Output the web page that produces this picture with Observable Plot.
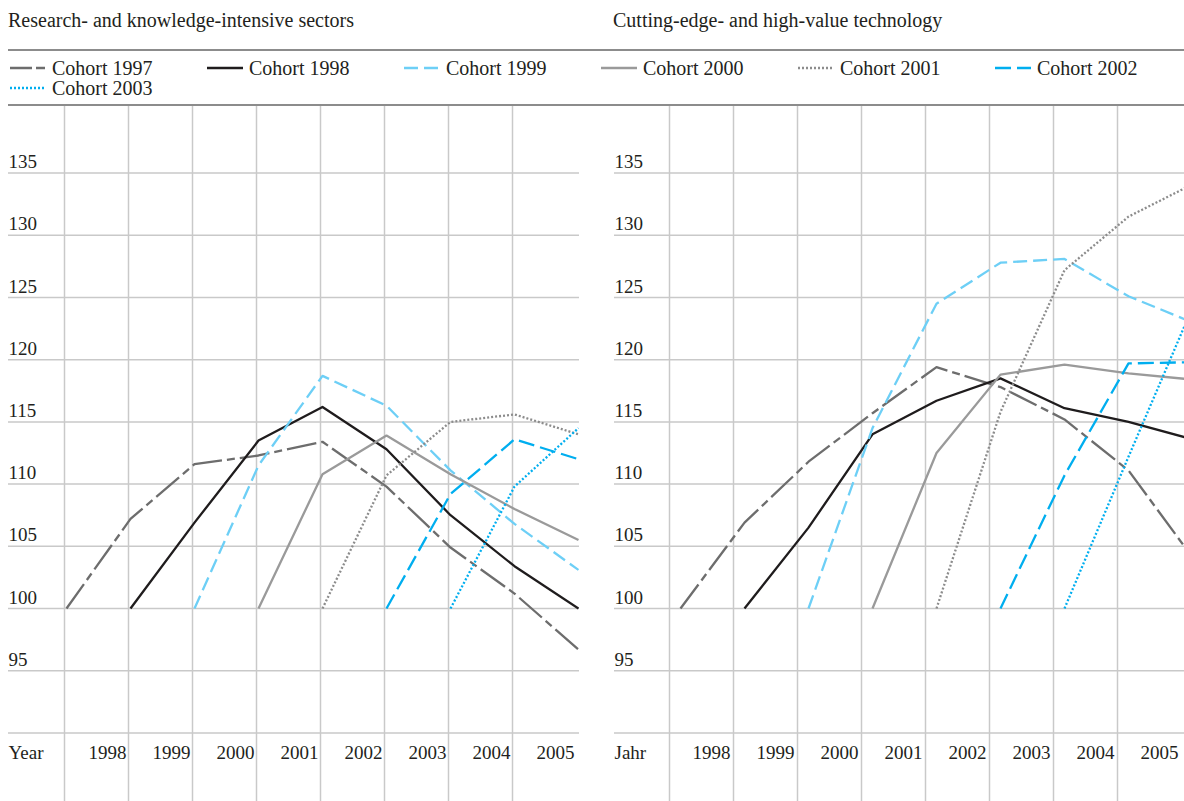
<!DOCTYPE html>
<html>
<head>
<meta charset="utf-8">
<script src="https://cdn.jsdelivr.net/npm/d3@7"></script>
<script src="https://cdn.jsdelivr.net/npm/@observablehq/plot@0.6"></script>
<style>
  html, body { margin: 0; padding: 0; background: #fff; overflow: hidden; }
  body { width: 1184px; height: 801px; position: relative; font-family: "Liberation Serif", "Times New Roman", serif; color: #231f20; }
  .title { position: absolute; top: 8px; font-size: 20px; line-height: 24px; white-space: nowrap; }
  .rule { position: absolute; left: 8px; width: 1176px; height: 2px; background: #8c8c8c; z-index: 2; }
  #legend { position: absolute; left: 8px; top: 58px; width: 1200px; display: flex; flex-wrap: wrap; }
  .item { width: 197px; height: 20px; display: flex; align-items: center; font-size: 20px; line-height: 20px; white-space: nowrap; }
  .item svg { margin-left: 2px; margin-right: 6px; flex: none; }
  .panel { position: absolute; top: 105px; }
</style>
</head>
<body>
<div class="title" style="left:8px">Research- and knowledge-intensive sectors</div>
<div class="title" style="left:613px">Cutting-edge- and high-value technology</div>
<div class="rule" style="top:49px"></div>
<div id="legend"></div>
<div class="rule" style="top:104px"></div>
<div class="panel" id="left" style="left:0px"></div>
<div class="panel" id="right" style="left:600px"></div>
<script>
// ---- data ----
const years = [1997, 1998, 1999, 2000, 2001, 2002, 2003, 2004, 2005];
const yTickLabels = [95, 100, 105, 110, 115, 120, 125, 130, 135];
const yGrid = [90, 95, 100, 105, 110, 115, 120, 125, 130, 135];
const cohorts = ["Cohort 1997", "Cohort 1998", "Cohort 1999", "Cohort 2000", "Cohort 2001", "Cohort 2002", "Cohort 2003"];
const cohortStart = [1997, 1998, 1999, 2000, 2001, 2002, 2003];

// Research- and knowledge-intensive sectors (index, start year = 100)
const research1997 = [100, 107.2, 111.6, 112.3, 113.4, 109.8, 104.9, 101.2, 96.7];
const research1998 = [100, 106.9, 113.5, 116.2, 112.8, 107.5, 103.4, 100.0];
const research1999 = [100, 111.5, 118.7, 116.3, 111.1, 106.8, 103.1];
const research2000 = [100, 110.8, 113.9, 110.8, 108.0, 105.5];
const research2001 = [100, 110.7, 115.0, 115.6, 114.0];
const research2002 = [100, 109.2, 113.6, 112.0];
const research2003 = [100, 109.8, 114.5];

// Cutting-edge- and high-value technology
const tech1997 = [100, 106.9, 111.8, 115.7, 119.4, 117.8, 115.2, 111.1, 104.1];
const tech1998 = [100, 106.5, 114.0, 116.7, 118.5, 116.1, 115.0, 113.6];
const tech1999 = [100, 114.5, 124.5, 127.8, 128.1, 125.1, 123.0];
const tech2000 = [100, 112.5, 118.8, 119.6, 118.9, 118.4];
const tech2001 = [100, 115.8, 127.2, 131.5, 134.1];
const tech2002 = [100, 110.7, 119.7, 119.8];
const tech2003 = [100, 112.2, 124.2];

const researchSeries = [research1997, research1998, research1999, research2000, research2001, research2002, research2003];
const techSeries = [tech1997, tech1998, tech1999, tech2000, tech2001, tech2002, tech2003];

const styles = [
  {stroke: "#6d6d6d", dash: "30,5,8,5"},
  {stroke: "#1f1c1d", dash: null},
  {stroke: "#6dcff6", dash: "14,6"},
  {stroke: "#9a9a9a", dash: null},
  {stroke: "#8c8c8c", dash: "2,2"},
  {stroke: "#00aeef", dash: "16,6"},
  {stroke: "#00aeef", dash: "2,2"}
];

// ---- legend ----
const legend = document.getElementById("legend");
cohorts.forEach((name, i) => {
  const s = styles[i];
  const item = document.createElement("div");
  item.className = "item";
  item.innerHTML = `<svg width="36" height="20"><line x1="0" x2="36" y1="10" y2="10" stroke="${s.stroke}" stroke-width="2.4" ${s.dash ? `stroke-dasharray="${i === 0 ? "22,4,9,4" : s.dash}"` : ""}></line></svg><span>${name}</span>`;
  legend.appendChild(item);
});

// ---- panels ----
const FONT = "Liberation Serif";
function rowsOf(series) {
  const rows = [];
  series.forEach((vals, i) => vals.forEach((v, j) => rows.push({cohort: cohorts[i], year: cohortStart[i] + j, value: v})));
  return rows;
}

function panel({series, width, xRange, marginLeft, marginRight, gridDx, labelDx, word}) {
  const rows = rowsOf(series);
  return Plot.plot({
    width, height: 696,
    marginTop: 0, marginBottom: 0, marginLeft, marginRight,
    x: {domain: [1997, 2005], range: xRange, axis: null},
    y: {domain: [90, 135], range: [627.4, 67.6], axis: null},
    style: {background: "transparent", color: "#231f20", overflow: "hidden"},
    marks: [
      Plot.ruleX(years.slice(0, 8), {x: d => d, dx: gridDx, stroke: "#c9c9c9", strokeWidth: 1.5}),
      Plot.ruleY(yGrid, {y: d => d, stroke: "#c9c9c9", strokeWidth: 1.5}),
      Plot.text(yTickLabels, {y: d => d, text: d => String(d), frameAnchor: "left", textAnchor: "start", lineAnchor: "bottom", dy: -5, fontFamily: FONT, fontSize: 19, fill: "#231f20"}),
      Plot.text(years.slice(1), {x: d => d, text: d => String(d), frameAnchor: "bottom", textAnchor: "end", lineAnchor: "bottom", dx: labelDx, dy: -43, fontFamily: FONT, fontSize: 19, fill: "#231f20"}),
      Plot.text([word], {text: d => d, frameAnchor: "bottom-left", textAnchor: "start", lineAnchor: "bottom", dy: -43, fontFamily: FONT, fontSize: 19, fill: "#231f20"}),
      ...cohorts.map((c, i) => Plot.line(rows.filter(r => r.cohort === c), {
        x: "year", y: "value",
        stroke: styles[i].stroke, strokeWidth: 2.3,
        strokeDasharray: styles[i].dash || undefined,
        strokeLinecap: "butt", strokeLinejoin: "round",
        clip: true
      }))
    ]
  });
}

document.getElementById("left").appendChild(panel({
  series: researchSeries, width: 600, xRange: [66, 578], marginLeft: 8, marginRight: 21,
  gridDx: -2, labelDx: -4, word: "Year"
}));
document.getElementById("right").appendChild(panel({
  series: techSeries, width: 584, xRange: [80, 592], marginLeft: 14, marginRight: 0,
  gridDx: -11, labelDx: -14, word: "Jahr"
}));
</script>
</body>
</html>
